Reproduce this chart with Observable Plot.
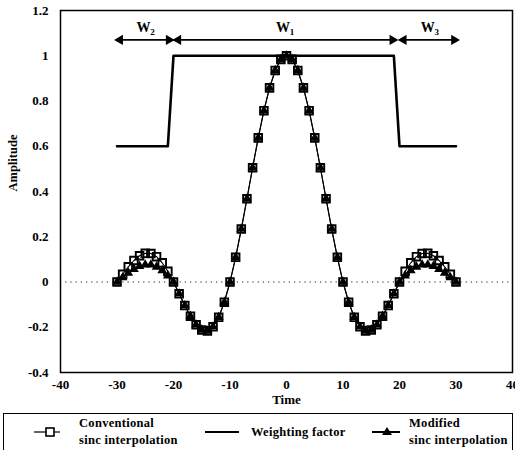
<!DOCTYPE html>
<html><head><meta charset="utf-8">
<script src="https://cdn.jsdelivr.net/npm/d3@7"></script>
<script src="https://cdn.jsdelivr.net/npm/@observablehq/plot@0.6"></script>
<style>
html,body{margin:0;padding:0;background:#fff;}
body{position:relative;width:515px;height:450px;overflow:hidden;font-family:"Liberation Serif","DejaVu Serif",serif;}
#chart{position:absolute;left:0;top:0;}
#legend{position:absolute;left:3px;top:413px;width:508px;height:40px;border-top:1.2px solid #000;border-left:1.5px solid #000;border-right:1.2px solid #000;font-weight:bold;font-size:12.5px;color:#000;}
.it{position:absolute;line-height:17px;letter-spacing:0.3px;}
.sym{position:absolute;}
</style></head><body>
<div id="chart"></div>
<div id="legend">
  <svg class="sym" style="left:28px;top:10px" width="30" height="16"><line x1="2" y1="8" x2="28" y2="8" stroke="#000" stroke-width="1.2"/><rect x="14" y="4" width="8" height="8" fill="#fff" stroke="#000" stroke-width="1.6"/></svg>
  <div class="it" style="left:75px;top:1px">Conventional<br>sinc interpolation</div>
  <svg class="sym" style="left:200px;top:10px" width="36" height="16"><line x1="1" y1="8" x2="35" y2="8" stroke="#000" stroke-width="2"/></svg>
  <div class="it" style="left:247px;top:10px">Weighting factor</div>
  <svg class="sym" style="left:367px;top:10px" width="30" height="16"><line x1="1" y1="8" x2="29" y2="8" stroke="#000" stroke-width="2"/><path d="M16,3 L21,11 L11,11 Z" fill="#000"/></svg>
  <div class="it" style="left:405px;top:1px">Modified<br>sinc interpolation</div>
</div>
<script>
// Sample times
const time = [-30,-29,-28,-27,-26,-25,-24,-23,-22,-21,-20,-19,-18,-17,-16,-15,-14,-13,-12,-11,-10,-9,-8,-7,-6,-5,-4,-3,-2,-1,0,1,2,3,4,5,6,7,8,9,10,11,12,13,14,15,16,17,18,19,20,21,22,23,24,25,26,27,28,29,30];
// Conventional sinc interpolation
const conventional = [0,0.034,0.067,0.095,0.116,0.127,0.126,0.112,0.085,0.047,0,-0.052,-0.104,-0.151,-0.189,-0.212,-0.216,-0.198,-0.156,-0.089,0,0.109,0.234,0.368,0.505,0.637,0.757,0.858,0.935,0.984,1,0.984,0.935,0.858,0.757,0.637,0.505,0.368,0.234,0.109,0,-0.089,-0.156,-0.198,-0.216,-0.212,-0.189,-0.151,-0.104,-0.052,0,0.047,0.085,0.112,0.126,0.127,0.116,0.095,0.067,0.034,0];
// Modified sinc interpolation
const modified = [0,0.020,0.040,0.057,0.070,0.076,0.076,0.067,0.051,0.028,0,-0.052,-0.104,-0.151,-0.189,-0.212,-0.216,-0.198,-0.156,-0.089,0,0.109,0.234,0.368,0.505,0.637,0.757,0.858,0.935,0.984,1,0.984,0.935,0.858,0.757,0.637,0.505,0.368,0.234,0.109,0,-0.089,-0.156,-0.198,-0.216,-0.212,-0.189,-0.151,-0.104,-0.052,0,0.028,0.051,0.067,0.076,0.076,0.070,0.057,0.040,0.020,0];
// Weighting factor
const weightTime = [-30,-21,-20,19,20,30];
const weightValue = [0.6,0.6,1,1,0.6,0.6];
// Window annotations
const windowSub = ["2","1","3"];
const windowStart = [-30,-19.7,20.2];
const windowEnd = [-20.3,19.3,30.2];
const windowCenter = [-25.3,-0.6,25];
const windowArrowY = 1.07;
const windowLabelY = 1.125;
// Ticks
const xTicks = [-40,-30,-20,-10,0,10,20,30,40];
const yTicks = [-0.4,-0.2,0,0.2,0.4,0.6,0.8,1,1.2];

const samples = time.map((t,i)=>({t, c: conventional[i], m: modified[i]}));
const weights = weightTime.map((t,i)=>({t, w: weightValue[i]}));
const windows = windowSub.map((s,i)=>({s, a: windowStart[i], b: windowEnd[i], c: windowCenter[i], y: windowArrowY, ly: windowLabelY}));

const chart = Plot.plot({
  width: 515, height: 412,
  marginLeft: 60, marginRight: 3, marginTop: 10, marginBottom: 40,
  style: {fontFamily: '"Liberation Serif","DejaVu Serif",serif', fontSize: "13px", fontWeight: "bold", color: "#000", background: "#fff"},
  x: {domain: [-40, 40]},
  y: {domain: [-0.4, 1.2]},
  marks: [
    Plot.ruleY([0], {stroke: "#222", strokeWidth: 1, strokeDasharray: "1.2,4"}),
    Plot.axisX({ticks: xTicks, tickSize: 0, tickPadding: 7, tickFormat: d => String(d), label: null, fontSize: 13}),
    Plot.axisY({ticks: yTicks, tickSize: 0, tickPadding: 12, tickFormat: d => String(d), label: null, fontSize: 13}),
    Plot.line(weights, {x: "t", y: "w", stroke: "#000", strokeWidth: 2.6}),
    Plot.line(samples, {x: "t", y: "m", stroke: "#000", strokeWidth: 1.1}),
    Plot.line(samples, {x: "t", y: "c", stroke: "#000", strokeWidth: 1.1}),
    Plot.dot(samples, {x: "t", y: "m", symbol: "triangle", r: 3.6, fill: "#000", stroke: "none"}),
    Plot.dot(samples, {x: "t", y: "c", symbol: "square", r: 4.3, fill: "none", stroke: "#000", strokeWidth: 1.9}),
    Plot.link(windows, {x1: "a", x2: "b", y1: "y", y2: "y", stroke: "#000", strokeWidth: 1.6}),
    Plot.dot(windows, {x: "b", y: "y", symbol: "triangle", rotate: 90, r: 3.8, dx: -3, fill: "#000", stroke: "none"}),
    Plot.dot(windows, {x: "a", y: "y", symbol: "triangle", rotate: -90, r: 3.8, dx: 3, fill: "#000", stroke: "none"}),
    Plot.text(windows, {x: "c", y: "ly", text: () => "W", fontSize: 14, fontWeight: "bold"}),
    Plot.text(windows, {x: "c", y: "ly", text: "s", dx: 9, dy: 5, fontSize: 9, fontWeight: "bold"}),
    Plot.text(["Amplitude"], {frameAnchor: "left", dx: -48, rotate: -90, fontSize: 12.5, fontWeight: "bold"}),
    Plot.text(["Time"], {frameAnchor: "bottom", dy: 31, fontSize: 13, fontWeight: "bold"}),
    Plot.frame({stroke: "#000", strokeWidth: 1.5})
  ]
});
document.getElementById("chart").appendChild(chart);
</script>
</body></html>
